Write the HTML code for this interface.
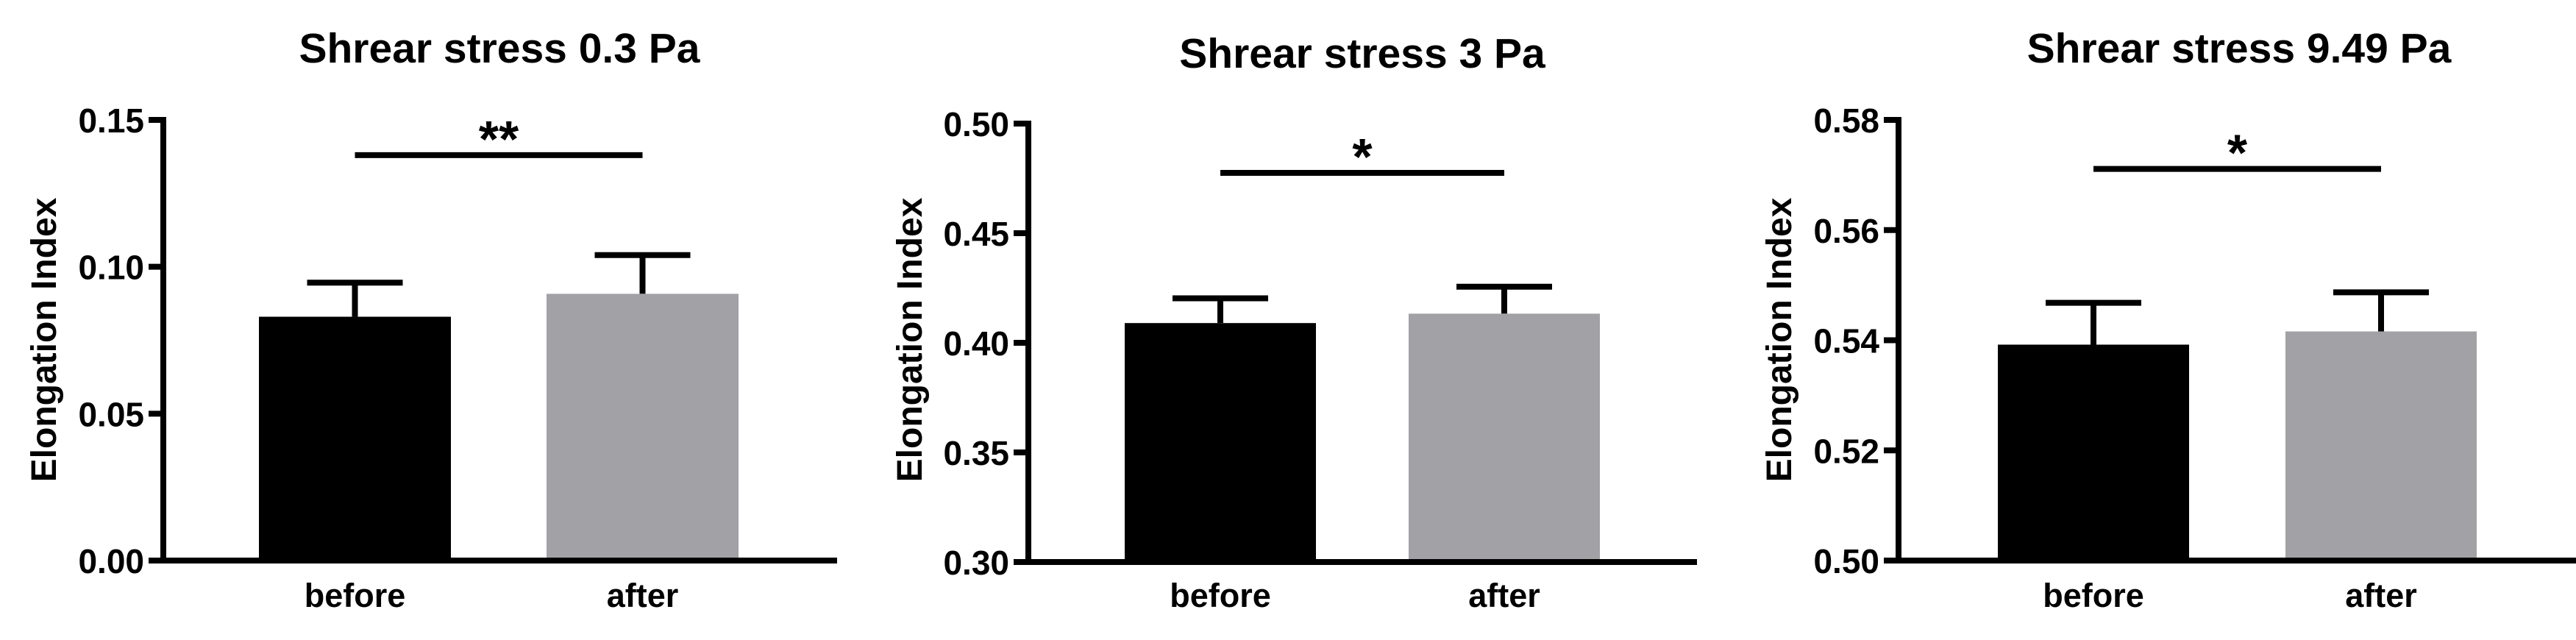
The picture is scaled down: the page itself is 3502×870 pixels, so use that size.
<!DOCTYPE html>
<html><head><meta charset="utf-8"><style>
html,body{margin:0;padding:0;background:#fff;}
svg{display:block;font-family:"Liberation Sans",Arial,sans-serif;font-weight:bold;}
</style></head><body>
<svg id="chart" width="3502" height="870" viewBox="0 0 3502 870" xmlns="http://www.w3.org/2000/svg"></svg>
<script>
const panelTitles = ["Shrear stress 0.3 Pa", "Shrear stress 3 Pa", "Shrear stress 9.49 Pa"];
const categories = ["before", "after"];
const meanValues = [[0.083, 0.0908], [0.409, 0.4133], [0.5392, 0.5416]];
const errValues = [[0.0946, 0.104], [0.4203, 0.4256], [0.5468, 0.5487]];
const yMins = [0.0, 0.30, 0.50];
const yMaxs = [0.15, 0.50, 0.58];
const tickLabels = [["0.00","0.05","0.10","0.15"],["0.30","0.35","0.40","0.45","0.50"],["0.50","0.52","0.54","0.56","0.58"]];
const sigMarks = ["**", "*", "*"];
const sigLevels = [0.138, 0.4775, 0.5711];

const layout = [
  {ax:222, xEnd:1138, bars:[352,743], bw:261, ylab:60, tc:679, ty:85, top:163, bot:762},
  {ax:1398, xEnd:2307, bars:[1529,1915], bw:260, ylab:1237, tc:1852, ty:92, top:168, bot:764},
  {ax:2581, xEnd:3502, bars:[2716,3107], bw:260, ylab:2419, tc:3044, ty:85, top:163, bot:762}
];
const NS = "http://www.w3.org/2000/svg";
const svg = document.getElementById('chart');
function mk(tag, attrs, parent){
  const e = document.createElementNS(NS, tag);
  for (const k in attrs) e.setAttribute(k, attrs[k]);
  (parent||svg).appendChild(e);
  return e;
}
layout.forEach((L, p) => {
  const g = mk('g', {});
  
  
  const yTop = L.top, yBot = L.bot;
  const y = v => yBot - (v - yMins[p]) / (yMaxs[p] - yMins[p]) * (yBot - yTop);
  const t = mk('text', {x:L.tc, y:L.ty, 'font-size':57, 'text-anchor':'middle'}, g);
  t.textContent = panelTitles[p];
  
  
  const yl = mk('text', {x:0, y:0, 'font-size':48, 'text-anchor':'middle', transform:`translate(${L.ylab+16},462) rotate(-90)`}, g);
  yl.textContent = 'Elongation Index';
  
  
  categories.forEach((c, i) => {
    const x0 = L.bars[i], cx = x0 + L.bw/2;
    const top = y(meanValues[p][i]), et = y(errValues[p][i]);
    const ln = mk('line', {x1:cx, x2:cx, y1:top, y2:et, stroke:'#000', 'stroke-width':8}, g);
    
    
    const cap = mk('line', {x1:cx-65, x2:cx+65, y1:et, y2:et, stroke:'#000', 'stroke-width':8}, g);
    
    
    const r = mk('rect', {x:x0, y:top, width:L.bw, height:yBot-top, fill: i===0?'#000':'#a2a1a6'}, g);
    
    
    const cl = mk('text', {x:cx, y:825, 'font-size':45, 'text-anchor':'middle'}, g);
    cl.textContent = c;
    
    
  });
  const ya = mk('line', {x1:L.ax, x2:L.ax, y1:yTop-4, y2:yBot+4, stroke:'#000', 'stroke-width':8}, g);
  
  
  const xa = mk('line', {x1:L.ax-20, x2:L.xEnd, y1:yBot, y2:yBot, stroke:'#000', 'stroke-width':8}, g);
  
  
  tickLabels[p].forEach(lbl => {
    const ty = y(parseFloat(lbl));
    const tk = mk('line', {x1:L.ax-20, x2:L.ax, y1:ty, y2:ty, stroke:'#000', 'stroke-width':8}, g);
    
    
    const tl = mk('text', {x:L.ax-26, y:ty+17, 'font-size':46, 'text-anchor':'end'}, g);
    tl.textContent = lbl;
    
    
  });
  const c0 = L.bars[0] + L.bw/2, c1 = L.bars[1] + L.bw/2;
  const sy = y(sigLevels[p]);
  const sl = mk('line', {x1:c0, x2:c1, y1:sy, y2:sy, stroke:'#000', 'stroke-width':8}, g);
  
  
  const st = mk('text', {x:(c0+c1)/2, y:sy+2, 'font-size':70, 'text-anchor':'middle'}, g);
  st.textContent = sigMarks[p];
  
  
});
</script>
</body></html>
